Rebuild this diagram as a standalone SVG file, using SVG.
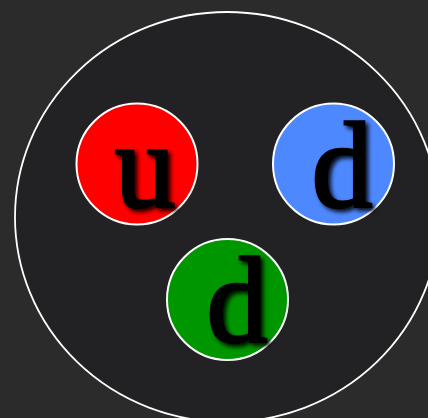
<svg xmlns="http://www.w3.org/2000/svg" width="428" height="418" viewBox="0 0 428 418">
<defs>
<filter id="sh" x="-30%" y="-30%" width="160%" height="160%">
<feDropShadow dx="3" dy="3" stdDeviation="2.2" flood-color="#000" flood-opacity="0.9"/>
</filter>
<style>
.q{stroke:#fff;stroke-width:2}
.t{font-family:"Liberation Serif","DejaVu Serif",serif;font-size:122px;fill:#000;stroke:#000;stroke-width:2.5;text-anchor:middle;filter:url(#sh)}
</style>
</defs>
<rect width="428" height="418" fill="#2b2b2c"/>
<g id="proton">
<ellipse cx="227" cy="217" rx="212" ry="205" fill="#222224" stroke="#fff" stroke-width="1.8"/>
</g>
<g id="up">
<circle class="q" cx="137" cy="164" r="60.5" fill="#ff0000"/>
<text class="t" x="145" y="207">u</text>
</g>
<g id="down-blue">
<circle class="q" cx="333.5" cy="164" r="60.5" fill="#4e88ff"/>
<text class="t" x="342" y="207">d</text>
</g>
<g id="down-green">
<circle class="q" cx="227.5" cy="299.5" r="60.5" fill="#009600"/>
<text class="t" x="237" y="342">d</text>
</g>
</svg>
